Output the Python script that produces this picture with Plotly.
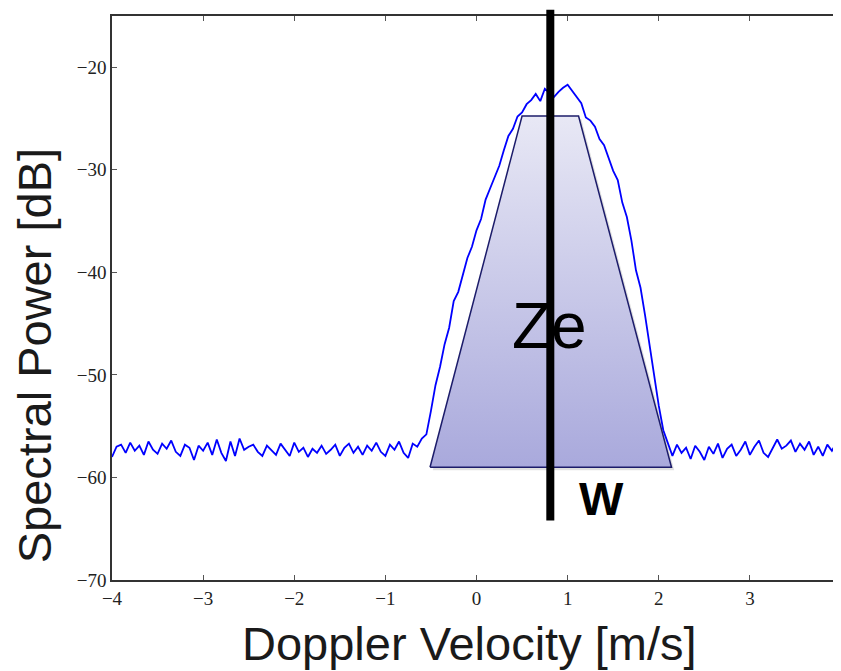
import plotly.graph_objects as go

# Doppler spectrum (step 0.05 m/s)
velocity = [round(-4 + 0.05 * i, 2) for i in range(161)]
power = [
    -58.0, -57.0, -56.8, -57.6, -56.6, -57.4, -56.9, -57.8, -56.5, -57.3,
    -57.7, -56.7, -57.2, -56.4, -57.5, -57.9, -56.8, -57.1, -58.3, -56.9,
    -57.4, -56.6, -57.8, -56.3, -57.6, -58.4, -56.5, -57.9, -56.2, -57.3,
    -57.0, -56.8, -57.5, -57.9, -56.9, -57.4, -57.8, -56.7, -57.3, -57.9,
    -56.6, -57.5, -57.1, -58.0, -57.2, -57.6, -56.9, -57.7, -57.3, -56.8,
    -57.9, -57.1, -56.7, -57.6, -57.0, -57.8, -56.9, -57.4, -56.6, -57.5,
    -57.9, -56.8, -57.3, -56.5, -57.6, -58.1, -56.7, -57.0, -56.2, -55.8,
    -53.5, -51.0, -49.2, -47.0, -45.4, -42.8, -41.9, -40.2, -38.6, -37.5,
    -35.9, -34.8, -32.9, -31.8, -30.7, -29.6, -28.1, -26.7, -26.0, -24.8,
    -24.4, -23.6, -23.2, -22.6, -23.3, -22.1, -22.5, -22.9, -22.4, -22.0,
    -21.7, -22.3, -22.9, -23.5, -24.9, -25.2, -25.8, -27.0, -27.6, -28.9,
    -30.1, -31.0, -33.2, -34.6, -36.9, -39.8, -41.5, -44.2, -47.1, -50.3,
    -53.0, -55.4, -56.6, -57.9, -56.8, -57.6, -57.1, -58.2, -56.9, -57.5,
    -58.3, -57.0, -57.7, -56.7, -58.1, -57.2, -56.8, -57.9, -57.3, -56.5,
    -57.8, -57.0, -56.4, -57.6, -58.0, -57.1, -56.3, -57.2, -56.9, -56.4,
    -57.5, -56.7, -57.3, -56.5, -57.8, -57.0, -57.9, -56.8, -57.4, -56.6,
    -57.7,
]

# schematic trapezoid (reflectivity Ze) and mean velocity line (W)
trap_x = [-0.51, 0.50, 1.12, 2.14, -0.51]
trap_y = [-59.0, -24.75, -24.75, -59.0, -59.0]
mean_vel = 0.81
mean_line_y = [-64.2, -14.4]

x_ticks = [-4, -3, -2, -1, 0, 1, 2, 3]
y_ticks = [-70, -60, -50, -40, -30, -20]
x_range = [-4, 4]
y_range = [-70, -15]

fig = go.Figure()

# soft shadow under the trapezoid
fig.add_trace(go.Scatter(
    x=[v + 0.03 for v in trap_x], y=[v - 0.3 for v in trap_y],
    mode="lines", fill="toself", fillcolor="rgba(0,0,0,0.12)",
    line=dict(width=0), hoverinfo="skip", showlegend=False))

fig.add_trace(go.Scatter(
    x=velocity, y=power, mode="lines",
    line=dict(color="#0000ff", width=1.8), showlegend=False))

fig.add_trace(go.Scatter(
    x=trap_x, y=trap_y, mode="lines", fill="toself",
    fillgradient=dict(type="vertical",
                      colorscale=[[0, "#a9a9dc"], [1, "#e8e8f5"]]),
    line=dict(color="#1c1c6a", width=1.5), showlegend=False))

# vertical line pokes out above the frame, so use paper coords for y
def to_paper(v):
    return (v - y_range[0]) / (y_range[1] - y_range[0])

fig.add_shape(type="line", xref="x", yref="paper",
              x0=mean_vel, x1=mean_vel,
              y0=to_paper(mean_line_y[0]), y1=to_paper(mean_line_y[1]),
              line=dict(color="black", width=8))

fig.add_annotation(x=0.80, y=-45.2, text="Ze", showarrow=False,
                   font=dict(family="Liberation Sans", size=64, color="black"))
fig.add_annotation(x=1.37, y=-62.1, text="<b>W</b>", showarrow=False,
                   font=dict(family="Liberation Sans", size=47, color="black"))

# axis titles
fig.add_annotation(xref="paper", yref="paper", x=0.491, y=0, yshift=-92,
                   text="Doppler Velocity [m/s]", showarrow=False,
                   font=dict(family="Liberation Sans", size=47, color="#1a1a1a"))
fig.add_annotation(xref="paper", yref="paper", x=0, xshift=-106, y=0.3975,
                   text="Spectral Power [dB]", textangle=-90, showarrow=False,
                   font=dict(family="Liberation Sans", size=47, color="#1a1a1a"))

axis_style = dict(showgrid=False, zeroline=False, showline=True,
                  linecolor="#333333", linewidth=1.5, mirror="ticks",
                  ticks="inside", ticklen=5, tickcolor="#555555",
                  tickfont=dict(family="Liberation Serif", size=19, color="#222222"))

fig.update_xaxes(range=x_range, tickvals=x_ticks, **axis_style)
fig.update_yaxes(range=y_range, tickvals=y_ticks, **axis_style)

# page body adds 8px, margins compensate so the frame lands where it should
fig.update_layout(width=841, height=671,
                  margin=dict(l=104, r=6, t=6, b=99),
                  plot_bgcolor="white", paper_bgcolor="white")

fig.write_html("out.html")
